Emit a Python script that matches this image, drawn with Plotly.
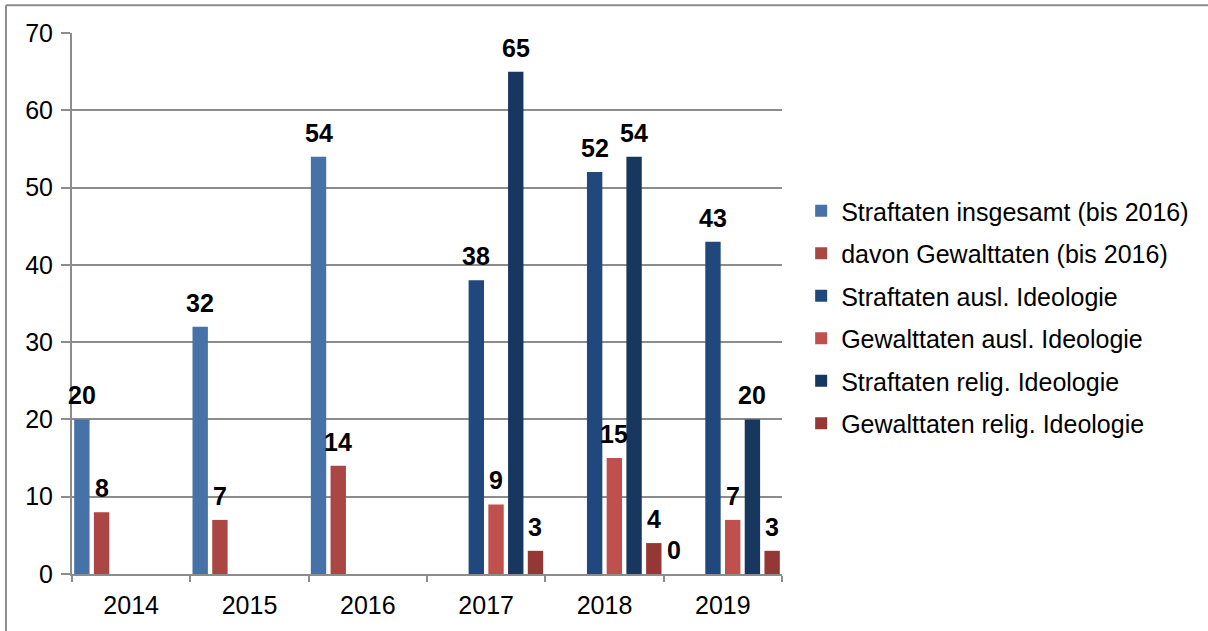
import plotly.graph_objects as go

years = ["2014", "2015", "2016", "2017", "2018", "2019"]

names = [
    "Straftaten insgesamt (bis 2016)",
    "davon Gewalttaten (bis 2016)",
    "Straftaten ausl. Ideologie",
    "Gewalttaten ausl. Ideologie",
    "Straftaten relig. Ideologie",
    "Gewalttaten relig. Ideologie",
]

straftaten_gesamt = [20, 32, 54, None, None, 0]
gewalttaten_gesamt = [8, 7, 14, None, None, None]
straftaten_ausl = [None, None, None, 38, 52, 43]
gewalttaten_ausl = [None, None, None, 9, 15, 7]
straftaten_relig = [None, None, None, 65, 54, 20]
gewalttaten_relig = [None, None, None, 3, 4, 3]

colors = ["#4672A8", "#AA4643", "#21487C", "#C0504D", "#17375E", "#953735"]

series = [straftaten_gesamt, gewalttaten_gesamt, straftaten_ausl,
          gewalttaten_ausl, straftaten_relig, gewalttaten_relig]

FONT = "Liberation Sans, Arial, sans-serif"
GRAY = "#8c8c8c"
FS = 25

# plot-area geometry (pixels)
ML, MR, MT, MB = 72, 426, 33, 54
W, H = 1208, 631
plot_w = W - ML - MR
cat_px = plot_w / len(years)
slot_px = cat_px / len(series)

fig = go.Figure()
annotations = []
for i, (name, vals, col) in enumerate(zip(names, series, colors)):
    fig.add_trace(go.Bar(
        x=years, y=vals, name=name,
        marker=dict(color=col, line=dict(width=0)),
        legendgroup=f"g{i}",
    ))
    for j, v in enumerate(vals):
        if v is None:
            continue
        annotations.append(dict(
            x=j, y=v, xref="x", yref="y", text=f"<b>{v}</b>", showarrow=False,
            yanchor="bottom", xanchor="center",
            xshift=(i - (len(series) - 1) / 2) * slot_px, yshift=8,
            font=dict(family=FONT, size=FS, color="#000000"),
        ))

fig.update_layout(
    width=W, height=H,
    margin=dict(l=ML, r=MR, t=MT, b=MB),
    paper_bgcolor="white", plot_bgcolor="white",
    barmode="group", bargap=0.0, bargroupgap=0.22,
    font=dict(family=FONT, size=FS, color="#000000"),
    showlegend=True,
    legend=dict(
        x=1.027, xanchor="left", y=0.475, yanchor="middle",
        font=dict(family=FONT, size=FS, color="#000000"),
        traceorder="grouped", tracegroupgap=7,
        bgcolor="rgba(0,0,0,0)",
    ),
    xaxis=dict(
        type="category", categoryorder="array", categoryarray=years,
        range=[-0.5, len(years) - 0.5],
        showline=True, linecolor=GRAY, linewidth=2,
        ticks="outside", tickson="boundaries", ticklen=6, tickcolor=GRAY, tickwidth=2,
        showgrid=False, ticklabelstandoff=8, tickangle=0,
        tickfont=dict(family=FONT, size=FS, color="#000000"),
    ),
    yaxis=dict(
        range=[0, 70], dtick=10, showline=True, linecolor=GRAY, linewidth=2,
        showgrid=True, gridcolor=GRAY, gridwidth=2, zeroline=False,
        ticks="outside", ticklen=9, tickcolor=GRAY, tickwidth=2,
        ticklabelstandoff=3,
        tickfont=dict(family=FONT, size=FS, color="#000000"),
    ),
    annotations=annotations,
    shapes=[
        dict(type="line", xref="paper", yref="paper", x0=-0.093, x1=1.61, y0=1.0515, y1=1.0515,
             line=dict(color=GRAY, width=2)),
        dict(type="line", xref="paper", yref="paper", x0=-0.093, x1=-0.093, y0=1.0515, y1=-0.12,
             line=dict(color=GRAY, width=2)),
    ],
)

fig.write_html("out.html", config={"displayModeBar": False},
               post_script="document.body.style.margin='0';")
